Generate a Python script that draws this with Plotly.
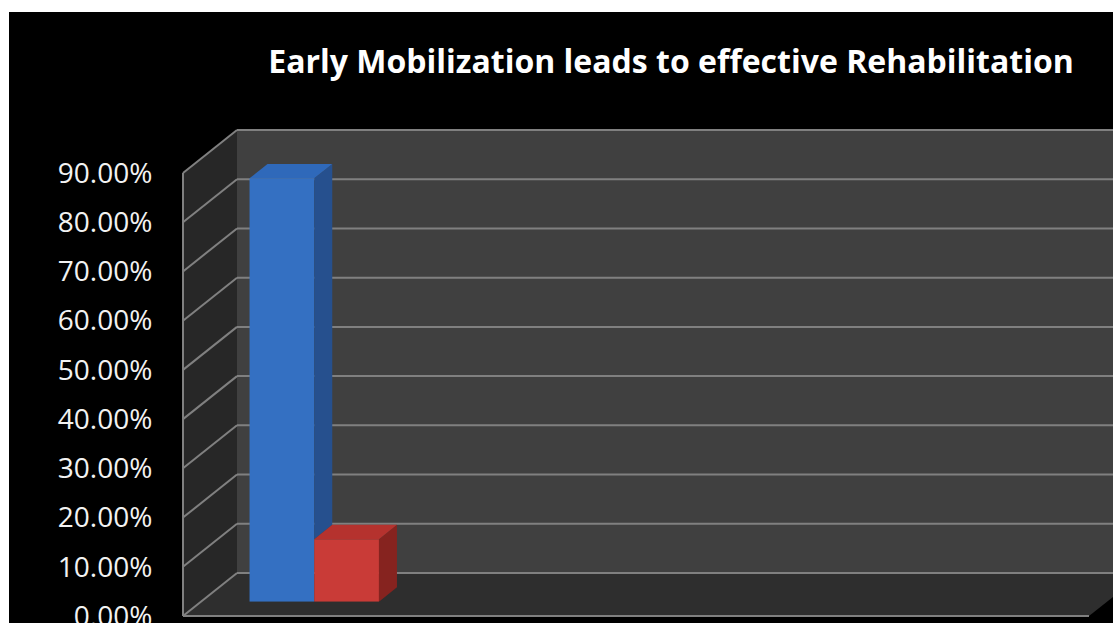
import plotly.graph_objects as go

# ---------------- data ----------------
categories = ["Category 1", "Category 2", "Category 3", "Category 4"]
series_names = ["Series 1", "Series 2"]
blue_values = [0.86, None, None, None]
red_values = [0.127, None, None, None]
y_ticks = [0.0, 0.1, 0.2, 0.3, 0.4, 0.5, 0.6, 0.7, 0.8, 0.9]
title_text = "Early Mobilization leads to effective Rehabilitation"

# ---------------- styling / geometry ----------------
W, H = 1113, 623
Y_MAX = 0.9
FRONT_LEFT, FRONT_RIGHT = 183, 1089      # front edge of floor (px)
FRONT_BASE, FRONT_TOP = 616, 173         # 0% and 90% on the front edge (px)
DEPTH_X, DEPTH_Y = 54, 43                # total depth offset to back wall (px)
BAR_FRONT = 1 / 3                        # fraction of depth where bars start
BAR_DEPTH = 1 / 3
BARGAP = 1.5 / 3.5

series_values = [blue_values, red_values]
front_colors = ["#3470c2", "#c93b37"]
top_colors = ["#2f69ba", "#b5322e"]
side_colors = ["#26508e", "#86231f"]

PX_PER_UNIT = (FRONT_BASE - FRONT_TOP) / Y_MAX
PX_PER_CAT = (FRONT_RIGHT - FRONT_LEFT) / len(categories)


def px(x):
    return x / W


def py(y):
    return 1 - y / H


def plane_y(v, f):
    return FRONT_BASE - v * PX_PER_UNIT - f * DEPTH_Y


def plane_x(x, f):
    return x + f * DEPTH_X


fig = go.Figure()

# ---------- bars: front faces on the bar plane ----------
for name, vals, col in zip(series_names, series_values, front_colors):
    fig.add_trace(go.Bar(
        x=list(range(len(categories))), y=vals, name=name,
        marker=dict(color=col, line=dict(width=0)),
        xaxis="x", yaxis="y", showlegend=False, hoverinfo="skip"))

# ---------- bars: top and side faces (depth) ----------
dx = BAR_DEPTH * DEPTH_X / PX_PER_CAT
dy = BAR_DEPTH * DEPTH_Y / PX_PER_UNIT
bw = (1 - BARGAP) / len(series_values)
for j, vals in enumerate(series_values):
    for i, v in enumerate(vals):
        if v is None:
            continue
        x0 = i - (1 - BARGAP) / 2 + j * bw
        x1 = x0 + bw
        low = 0.0
        if j + 1 < len(series_values) and series_values[j + 1][i] is not None:
            low = series_values[j + 1][i]
        if low < v:
            fig.add_trace(go.Scatter(
                x=[x1, x1, x1 + dx, x1 + dx, x1], y=[low, v, v + dy, low + dy, low],
                fill="toself", fillcolor=side_colors[j], mode="lines",
                line=dict(width=0, color=side_colors[j]),
                xaxis="x", yaxis="y", showlegend=False, hoverinfo="skip"))
        fig.add_trace(go.Scatter(
            x=[x0, x1, x1 + dx, x0 + dx, x0], y=[v, v, v + dy, v + dy, v],
            fill="toself", fillcolor=top_colors[j], mode="lines",
            line=dict(width=0, color=top_colors[j]),
            xaxis="x", yaxis="y", showlegend=False, hoverinfo="skip"))

# invisible trace for the tick-label axis
fig.add_trace(go.Scatter(x=[0], y=[y_ticks[0]], mode="markers",
                         marker=dict(opacity=0), xaxis="x2", yaxis="y2",
                         showlegend=False, hoverinfo="skip"))

# ---------- walls, floor, gridlines (decoration) ----------
shapes = []
# black chart area (white margin at left/top)
shapes.append(dict(type="rect", xref="paper", yref="paper", x0=px(9), x1=1, y0=0, y1=py(12),
                   fillcolor="#000000", line=dict(width=0), layer="below"))

bl, br = plane_x(FRONT_LEFT, 1), plane_x(FRONT_RIGHT, 1)
# back wall
shapes.append(dict(type="rect", xref="paper", yref="paper",
                   x0=px(bl), x1=px(br), y0=py(plane_y(0, 1)), y1=py(plane_y(Y_MAX, 1)),
                   fillcolor="#404040", line=dict(width=0), layer="below"))
# left wall
p = [(FRONT_LEFT, plane_y(0, 0)), (FRONT_LEFT, plane_y(Y_MAX, 0)),
     (bl, plane_y(Y_MAX, 1)), (bl, plane_y(0, 1))]
shapes.append(dict(type="path", xref="paper", yref="paper",
                   path="M " + " L ".join(f"{px(a)},{py(b)}" for a, b in p) + " Z",
                   fillcolor="#272727", line=dict(width=0), layer="below"))
# floor
p = [(FRONT_LEFT, plane_y(0, 0)), (FRONT_RIGHT, plane_y(0, 0)),
     (br, plane_y(0, 1)), (bl, plane_y(0, 1))]
shapes.append(dict(type="path", xref="paper", yref="paper",
                   path="M " + " L ".join(f"{px(a)},{py(b)}" for a, b in p) + " Z",
                   fillcolor="#2e2e2e", line=dict(width=0), layer="below"))

grid_col = "#808080"
for t in y_ticks:
    yb = plane_y(t, 1)
    yf = plane_y(t, 0)
    shapes.append(dict(type="line", xref="paper", yref="paper",
                       x0=px(bl), x1=px(br), y0=py(yb), y1=py(yb),
                       line=dict(color=grid_col, width=2), layer="below"))
    shapes.append(dict(type="line", xref="paper", yref="paper",
                       x0=px(FRONT_LEFT), x1=px(bl), y0=py(yf), y1=py(yb),
                       line=dict(color=grid_col, width=2), layer="below"))
# front vertical edge of left wall and front edge of floor
shapes.append(dict(type="line", xref="paper", yref="paper",
                   x0=px(FRONT_LEFT), x1=px(FRONT_LEFT),
                   y0=py(plane_y(0, 0)), y1=py(plane_y(Y_MAX, 0)),
                   line=dict(color=grid_col, width=2), layer="below"))
shapes.append(dict(type="line", xref="paper", yref="paper",
                   x0=px(FRONT_LEFT), x1=px(FRONT_RIGHT),
                   y0=py(plane_y(0, 0)), y1=py(plane_y(0, 0)),
                   line=dict(color=grid_col, width=2), layer="below"))

fig.update_layout(
    width=W, height=H,
    margin=dict(l=0, r=0, t=0, b=0, autoexpand=False),
    paper_bgcolor="#ffffff",
    plot_bgcolor="rgba(0,0,0,0)",
    barmode="group", bargap=BARGAP, bargroupgap=0,
    showlegend=False,
    shapes=shapes,
    title=dict(text=title_text, x=px(671), xanchor="center", xref="paper",
               y=py(62), yanchor="middle", yref="paper", automargin=False,
               font=dict(family="Open Sans", size=32, color="#ffffff", weight="bold")),
    xaxis=dict(domain=[px(plane_x(FRONT_LEFT, BAR_FRONT)), px(plane_x(FRONT_RIGHT, BAR_FRONT))],
               range=[-0.5, len(categories) - 0.5],
               tickvals=list(range(len(categories))), ticktext=categories,
               showticklabels=False, showgrid=False, zeroline=False, showline=False,
               anchor="y", fixedrange=True, automargin=False),
    yaxis=dict(domain=[py(plane_y(0, BAR_FRONT)), py(plane_y(Y_MAX, BAR_FRONT))],
               range=[0, Y_MAX], showticklabels=False, showgrid=False,
               zeroline=False, showline=False, anchor="x", fixedrange=True, automargin=False),
    xaxis2=dict(domain=[px(FRONT_LEFT), px(FRONT_RIGHT)], range=[-0.5, len(categories) - 0.5],
                showticklabels=False, showgrid=False, zeroline=False, showline=False,
                anchor="y2", fixedrange=True, automargin=False),
    yaxis2=dict(domain=[py(plane_y(0, 0)), py(plane_y(Y_MAX, 0))], range=[0, Y_MAX],
                tickvals=y_ticks, tickformat=".2%",
                tickfont=dict(family="Open Sans", size=28, color="#f2f2f2"),
                ticks="outside", ticklen=24, tickcolor="rgba(0,0,0,0)",
                ticklabeloverflow="allow",
                showgrid=False, zeroline=False, showline=False,
                anchor="x2", fixedrange=True, automargin=False),
)

fig.write_html("out.html")
